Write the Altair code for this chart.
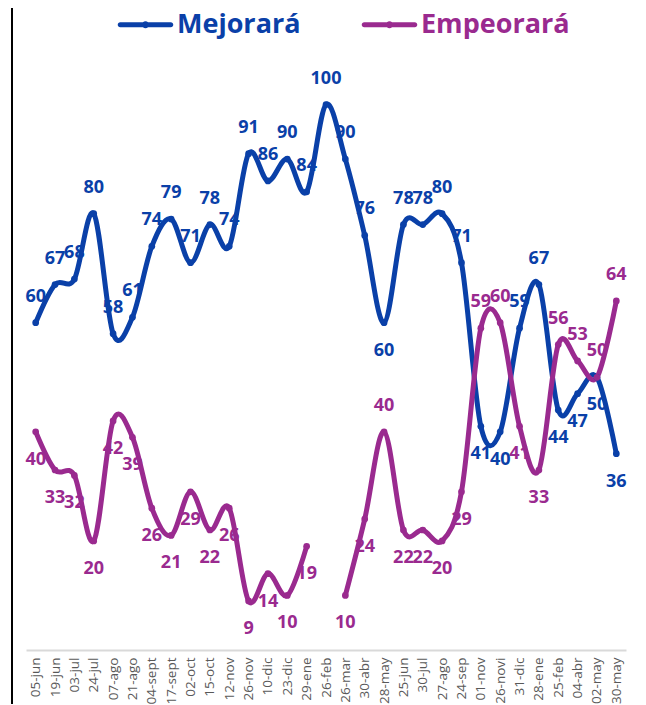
import altair as alt
import pandas as pd

fechas = ["05-jun", "19-jun", "03-jul", "24-jul", "07-ago", "21-ago", "04-sept", "17-sept",
          "02-oct", "15-oct", "12-nov", "26-nov", "10-dic", "23-dic", "29-ene", "26-feb",
          "26-mar", "30-abr", "28-may", "25-jun", "30-jul", "27-ago", "24-sep", "01-nov",
          "26-novi", "31-dic", "28-ene", "25-feb", "04-abr", "02-may", "30-may"]
mejorara = [60, 67, 68, 80, 58, 61, 74, 79, 71, 78, 74, 91, 86, 90, 84, 100,
            90, 76, 60, 78, 78, 80, 71, 41, 40, 59, 67, 44, 47, 50, 36]
empeorara = [40, 33, 32, 20, 42, 39, 26, 21, 29, 22, 26, 9, 14, 10, 19, None,
             10, 24, 40, 22, 22, 20, 29, 59, 60, 41, 33, 56, 53, 50, 64]
series = ["Mejorará", "Empeorará"]
colores = ["#0a40a8", "#9a2a8f"]
# fechas where the two value labels swap sides (as in the original chart)
etiquetas_invertidas = {"28-may"}

rows = []
for i, f in enumerate(fechas):
    m, e = mejorara[i], empeorara[i]
    up = (e is None or m > e)
    if f in etiquetas_invertidas:
        up = not up
    rows.append({"fecha": f, "orden": i, "serie": "Mejorará", "valor": m, "tramo": "M",
                 "pos": "arriba" if up else "abajo"})
for i, f in enumerate(fechas):
    m, e = mejorara[i], empeorara[i]
    if e is None:
        continue
    tramo = "E1" if i < fechas.index("26-feb") else "E2"
    up = e >= m
    if f in etiquetas_invertidas:
        up = not up
    rows.append({"fecha": f, "orden": i, "serie": "Empeorará", "valor": e, "tramo": tramo,
                 "pos": "arriba" if up else "abajo"})
df = pd.DataFrame(rows)

x = alt.X("fecha:N", sort=fechas, title=None,
          axis=alt.Axis(labelAngle=-90, labelFont="Open Sans", labelFontSize=13.5,
                        labelColor="#595959", ticks=False, domainColor="#d9d9d9",
                        domainWidth=2, labelPadding=7, grid=False))
y = alt.Y("valor:Q", axis=None, scale=alt.Scale(domain=[0, 110], nice=False, zero=True))
color_scale = alt.Scale(domain=series, range=colores)

legend_path = ("M-0.92,-0.09H0.92A0.09,0.09 0 0,1 0.92,0.09H-0.92A0.09,0.09 0 0,1 -0.92,-0.09Z "
               "M-0.13,0A0.13,0.13 0 1,1 0.13,0A0.13,0.13 0 1,1 -0.13,0Z")


def leyenda():
    return alt.Legend(orient="none", legendX=92, legendY=-53,
                      direction="horizontal", title=None,
                      symbolType=legend_path, symbolSize=3025,
                      symbolStrokeWidth=0, symbolOpacity=1,
                      labelFont="Open Sans", labelFontSize=27, labelFontWeight="bold",
                      labelColor=alt.ExprRef(
                          "datum.label == 'Mejorará' ? '#0a40a8' : '#9a2a8f'"),
                      columnPadding=60, labelOffset=4, labelLimit=400)


base = alt.Chart(df)

lines = base.mark_line(interpolate="cardinal", tension=0, strokeWidth=5,
                       strokeCap="round", strokeJoin="round").encode(
    x=x, y=y,
    stroke=alt.Stroke("serie:N", scale=color_scale, legend=leyenda()),
    detail="tramo:N",
    order=alt.Order("orden:Q"),
)

points = base.mark_point(filled=True, size=45, opacity=1, strokeWidth=0).encode(
    x=x, y=y,
    fill=alt.Fill("serie:N", scale=color_scale, legend=leyenda()),
)

txt_kw = dict(font="Open Sans", fontSize=18, fontWeight="bold", baseline="middle", align="center")
labels_up = base.transform_filter("datum.pos == 'arriba'").mark_text(dy=-26, **txt_kw).encode(
    x=x, y=y, text="valor:Q",
    color=alt.Color("serie:N", scale=color_scale, legend=leyenda()),
)
labels_down = base.transform_filter("datum.pos == 'abajo'").mark_text(dy=28, **txt_kw).encode(
    x=x, y=y, text="valor:Q",
    color=alt.Color("serie:N", scale=color_scale),
)

frame = alt.Chart(pd.DataFrame({"k": [0]})).mark_rule(color="black", strokeWidth=2).encode(
    x=alt.value(-14), y=alt.value(-50), y2=alt.value(680))

chart = alt.layer(frame, lines, points, labels_up, labels_down).properties(
    width=600, height=600,
    background="white",
    padding={"left": 18, "top": 42, "right": 10, "bottom": 54},
    autosize=alt.AutoSizeParams(type="none"),
).configure_view(strokeWidth=0)

chart.save("out.html", embed_options={"renderer": "svg", "actions": False})
